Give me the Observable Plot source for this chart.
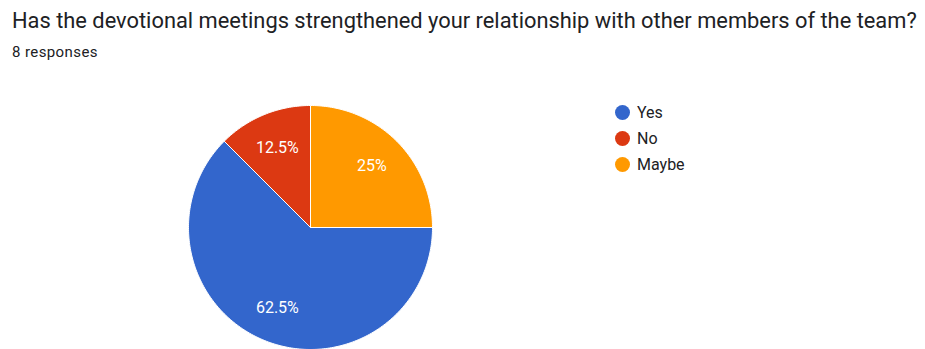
<!DOCTYPE html>
<html>
<head>
<meta charset="utf-8">
<script src="https://cdn.jsdelivr.net/npm/d3@7"></script>
<script src="https://cdn.jsdelivr.net/npm/@observablehq/plot@0.6"></script>
<style>
  html, body { margin: 0; padding: 0; background: #fff; }
  body { width: 925px; height: 349px; overflow: hidden; position: relative; font-family: Roboto, "Noto Sans", sans-serif; color: #202124; }
  #title { position: absolute; left: 12px; top: 8px; font-size: 21.85px; white-space: nowrap; }
  #sub { position: absolute; left: 12px; top: 43px; font-size: 15px; letter-spacing: 0.4px; white-space: nowrap; }
  #chart { position: absolute; left: 0; top: 70px; }
  #legend { position: absolute; left: 615px; top: 99px; font-size: 16px; }
  .item { display: flex; align-items: center; height: 26px; }
  .sw { width: 15px; height: 15px; border-radius: 50%; margin-right: 7px; }
</style>
</head>
<body>
<div id="title"></div>
<div id="sub"></div>
<div id="chart"></div>
<div id="legend"></div>
<script>
const titleText = "Has the devotional meetings strengthened your relationship with other members of the team?";
const subtitleText = "8 responses";
const categories = ["Yes", "No", "Maybe"];
const percents = [62.5, 12.5, 25];
const colors = ["#3366cc", "#dc3912", "#ff9900"];
const pieOrder = ["Maybe", "Yes", "No"]; // clockwise from 12 o'clock
const labels = ["62.5%", "12.5%", "25%"];

document.getElementById("title").textContent = titleText;
document.getElementById("sub").textContent = subtitleText;

// build slices
const pts = [];
const lab = [];
let start = 0;
for (const key of pieOrder) {
  const i = categories.indexOf(key);
  const a0 = start, a1 = start + percents[i] / 100 * 2 * Math.PI;
  pts.push({key, x: 0, y: 0});
  const n = Math.max(2, Math.ceil((a1 - a0) / (Math.PI / 180)));
  for (let k = 0; k <= n; k++) {
    const a = a0 + (a1 - a0) * k / n;
    pts.push({key, x: Math.sin(a), y: Math.cos(a)});
  }
  pts.push({key, x: 0, y: 0});
  const m = (a0 + a1) / 2;
  lab.push({key, text: labels[i], x: 0.71 * Math.sin(m), y: 0.71 * Math.cos(m)});
  start = a1;
}

const chart = Plot.plot({
  width: 925,
  height: 279,
  margin: 0,
  x: {domain: [-1, 1], range: [188, 432], axis: null},
  y: {domain: [-1, 1], range: [279, 35], axis: null},
  color: {domain: categories, range: colors},
  style: {background: "transparent"},
  marks: [
    Plot.line(pts, {x: "x", y: "y", z: "key", fill: "key", stroke: "white", strokeWidth: 1, curve: "linear"}),
    Plot.text(lab, {x: "x", y: "y", text: "text", fill: "white", fontSize: 16, fontFamily: "Roboto, sans-serif"})
  ]
});
document.getElementById("chart").appendChild(chart);

const legend = document.getElementById("legend");
categories.forEach((c, i) => {
  const d = document.createElement("div");
  d.className = "item";
  const s = document.createElement("div");
  s.className = "sw";
  s.style.background = colors[i];
  const t = document.createElement("span");
  t.textContent = c;
  d.appendChild(s); d.appendChild(t);
  legend.appendChild(d);
});
</script>
</body>
</html>
